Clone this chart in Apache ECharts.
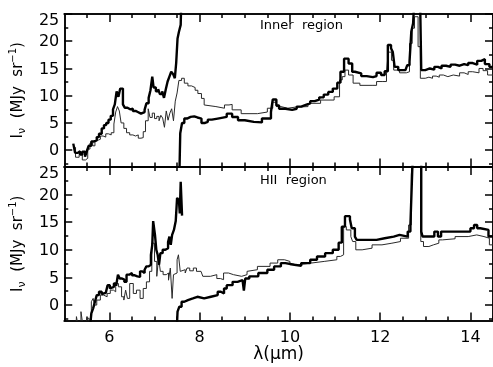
<!DOCTYPE html>
<html lang="en">
<head>
<meta charset="UTF-8">
<script src="https://cdn.jsdelivr.net/npm/echarts@6/dist/echarts.min.js"></script>
<title>Spectra</title>
<style>html,body{margin:0;padding:0;background:#fff;}</style>
</head>
<body>
<div id="chart" style="width:493px;height:367px;"></div>
<script>
// tick positions
var xMajor = [6, 8, 10, 12, 14];
var xMinor = [5.5, 6.5, 7, 7.5, 8.5, 9, 9.5, 10.5, 11, 11.5, 12.5, 13, 13.5, 14.5];
var yMajor = [0, 5, 10, 15, 20, 25];
var yMinor = [-2.5, 2.5, 7.5, 12.5, 17.5, 22.5];

// Inner region: [wavelength (um), I_nu (MJy/sr)]
var innerSL = [[5.20,1.2],[5.24,-0.5],[5.30,-0.2],[5.35,-0.8],[5.40,-0.3],[5.46,-1.2],[5.50,-0.2],[5.54,0.8],[5.60,1.6],[5.66,1.8],[5.72,2.4],[5.77,3.0],[5.83,4.0],[5.88,4.6],[5.93,5.0],[5.98,5.6],[6.03,6.3],[6.08,7.5],[6.12,8.4],[6.16,10.8],[6.20,9.8],[6.24,11.3],[6.30,8.4],[6.34,7.8],[6.40,7.5],[6.46,7.6],[6.52,7.2],[6.58,7.0],[6.63,6.7],[6.70,6.6],[6.74,7.0],[6.78,7.4],[6.82,8.6],[6.87,9.6],[6.91,11.0],[6.95,13.5],[6.98,11.5],[7.03,10.8],[7.08,11.2],[7.12,10.3],[7.17,10.8],[7.21,9.6],[7.25,11.2],[7.29,12.6],[7.33,13.5],[7.37,14.4],[7.41,14.0],[7.45,13.2],[7.48,16.0],[7.51,20.5],[7.54,21.7],[7.58,23.0],[7.60,30],[7.64,30]];
var innerThin = [[5.20,0.5],[5.25,-1.3],[5.33,-0.8],[5.40,-1.8],[5.47,-1.5],[5.52,0.2],[5.57,1.3],[5.63,0.8],[5.68,1.8],[5.74,2.0],[5.80,2.6],[5.86,2.4],[5.92,3.0],[5.98,2.8],[6.04,3.2],[6.10,4.8],[6.14,7.0],[6.18,8.0],[6.22,7.2],[6.26,5.0],[6.32,4.0],[6.38,3.2],[6.45,2.8],[6.52,2.6],[6.58,2.8],[6.64,2.2],[6.70,2.3],[6.75,3.4],[6.80,5.4],[6.86,7.6],[6.90,6.0],[6.95,6.8],[7.00,5.8],[7.05,6.2],[7.10,5.4],[7.14,6.4],[7.18,5.9],[7.22,4.2],[7.26,7.2],[7.30,5.5],[7.34,6.8],[7.38,7.6],[7.42,5.4],[7.46,9.0],[7.50,10.5],[7.54,12.8],[7.60,13.2],[7.66,12.3],[7.74,11.8],[7.82,11.5],[7.90,11.0],[7.96,10.4],[8.04,9.5],[8.10,8.3],[8.14,8.0],[8.36,7.7],[8.55,8.3],[8.65,8.4],[8.72,7.4],[8.92,6.7],[9.28,7.0],[9.50,7.7],[9.62,8.8],[9.70,8.0],[9.80,7.7],[9.95,7.9],[10.12,8.0],[10.40,8.6],[10.68,9.2],[10.98,9.8],[11.10,12.9],[11.16,13.5],[11.22,14.7],[11.30,13.8],[11.40,12.3],[11.55,11.9],[11.84,11.9],[11.92,12.6],[12.06,12.6],[12.14,14.3],[12.18,18.0],[12.25,16.5],[12.30,14.7],[12.43,14.2],[12.58,14.4],[12.65,19.6],[12.71,22.4],[12.76,24.5],[12.84,19.0],[12.89,13.2],[13.00,13.4],[13.08,13.2],[13.16,13.6],[13.24,13.4],[13.31,13.8],[13.40,13.5],[13.50,13.8],[13.62,13.6],[13.76,14.2],[13.86,13.9],[13.95,14.4],[14.05,14.2],[14.19,15.0],[14.28,14.6],[14.38,13.8],[14.50,13.8]];
var innerLL = [[7.55,-5],[7.57,3.1],[7.61,5.0],[7.66,5.8],[7.72,6.1],[7.80,6.2],[7.88,6.0],[7.95,5.8],[8.04,5.0],[8.12,5.2],[8.18,5.6],[8.27,5.8],[8.40,6.1],[8.60,6.7],[8.72,6.1],[8.85,5.5],[9.00,5.2],[9.20,5.1],[9.38,5.8],[9.58,7.0],[9.62,9.3],[9.70,8.2],[9.76,7.6],[9.90,7.4],[10.05,7.6],[10.15,8.0],[10.25,8.3],[10.35,8.6],[10.45,9.0],[10.55,9.3],[10.65,9.7],[10.75,10.2],[10.85,10.7],[10.95,11.3],[11.05,12.4],[11.12,14.4],[11.20,16.8],[11.30,15.9],[11.38,14.4],[11.44,14.1],[11.58,13.6],[11.70,13.4],[11.84,13.6],[11.92,14.2],[12.02,13.8],[12.10,14.5],[12.17,19.3],[12.24,18.7],[12.28,18.0],[12.32,15.3],[12.40,14.7],[12.56,14.7],[12.60,15.6],[12.65,16.2],[12.69,21.8],[12.73,23.3],[12.77,30],[12.88,30],[12.91,14.7],[13.00,15.0],[13.10,14.8],[13.20,15.3],[13.28,15.0],[13.36,15.5],[13.46,15.3],[13.56,15.7],[13.66,15.5],[13.76,15.8],[13.86,15.6],[13.95,16.0],[14.05,15.7],[14.15,16.4],[14.24,16.7],[14.32,15.8],[14.42,15.3],[14.50,15.3]];

// HII region
var hiiSL = [[5.56,-5],[5.60,-1.5],[5.64,-0.6],[5.68,0.6],[5.72,1.8],[5.77,2.4],[5.83,2.0],[5.87,2.2],[5.92,2.4],[5.96,3.6],[6.01,3.0],[6.05,3.3],[6.10,3.9],[6.15,3.5],[6.19,5.5],[6.23,4.8],[6.28,4.6],[6.33,4.2],[6.38,5.5],[6.44,5.8],[6.50,5.4],[6.55,5.2],[6.62,5.1],[6.68,6.1],[6.73,5.8],[6.78,6.4],[6.82,7.0],[6.87,7.3],[6.92,9.1],[6.95,10.9],[6.97,15.2],[7.01,12.7],[7.04,10.0],[7.07,9.1],[7.10,7.3],[7.13,9.4],[7.18,10.0],[7.24,10.3],[7.30,11.4],[7.33,12.4],[7.36,10.9],[7.39,12.7],[7.43,13.6],[7.47,15.2],[7.50,19.4],[7.54,19.0],[7.56,16.6],[7.58,22.3],[7.61,16.2]];
var hiiThin = [[5.26,-4],[5.27,-2.1],[5.31,-4],[5.37,-1.2],[5.41,-3.5],[5.50,-2.4],[5.55,-3.5],[5.60,0.6],[5.64,1.2],[5.67,0.0],[5.72,0.9],[5.80,1.8],[5.87,1.5],[5.95,2.1],[6.02,2.7],[6.09,2.4],[6.14,3.9],[6.20,3.3],[6.27,1.5],[6.32,0.9],[6.36,2.7],[6.40,1.2],[6.45,3.9],[6.53,2.1],[6.60,2.7],[6.68,1.2],[6.75,3.0],[6.82,4.2],[6.89,6.1],[6.94,11.2],[7.00,7.9],[7.05,5.2],[7.09,8.5],[7.13,6.1],[7.19,5.5],[7.26,5.8],[7.31,4.5],[7.35,6.7],[7.39,1.2],[7.42,5.5],[7.46,5.8],[7.50,8.2],[7.53,9.1],[7.57,6.1],[7.61,6.4],[7.68,5.8],[7.72,6.7],[7.78,6.2],[7.86,6.7],[7.93,6.1],[8.03,5.8],[8.07,5.2],[8.24,5.5],[8.38,4.8],[8.46,4.6],[8.53,5.8],[8.64,5.5],[8.75,5.2],[8.93,5.5],[9.05,6.1],[9.09,6.4],[9.28,7.0],[9.56,7.6],[9.73,8.2],[9.88,7.9],[10.00,7.3],[10.18,7.6],[10.47,7.9],[10.76,8.2],[11.04,8.8],[11.12,9.1],[11.19,14.2],[11.25,13.6],[11.35,12.4],[11.39,11.5],[11.46,10.0],[11.60,10.3],[11.82,10.9],[12.04,11.2],[12.26,11.5],[12.45,12.1],[12.63,14.5],[12.69,23.6],[12.73,30],[12.90,11.5],[12.96,10.6],[13.08,10.9],[13.18,11.2],[13.30,11.8],[13.38,12.0],[13.66,12.4],[13.95,12.7],[14.14,12.4],[14.30,12.1],[14.42,10.9],[14.50,10.9]];
var hiiLL = [[7.49,-5],[7.51,-1.2],[7.55,-0.3],[7.60,0.6],[7.66,0.9],[7.74,1.2],[7.85,1.5],[7.95,1.2],[8.10,1.5],[8.25,1.8],[8.40,2.4],[8.47,2.1],[8.54,3.0],[8.60,3.6],[8.73,4.2],[8.84,4.5],[8.95,4.2],[8.98,2.6],[9.01,4.8],[9.10,5.2],[9.30,5.8],[9.50,6.4],[9.65,7.0],[9.80,7.6],[9.90,7.3],[10.10,7.1],[10.25,7.6],[10.45,8.2],[10.60,8.8],[10.78,9.4],[10.95,10.0],[11.08,11.3],[11.15,14.2],[11.22,16.1],[11.33,15.5],[11.37,13.9],[11.44,12.4],[11.48,11.8],[11.80,11.8],[11.92,12.1],[12.10,12.4],[12.30,12.7],[12.43,12.4],[12.61,13.3],[12.67,14.5],[12.71,24.2],[12.74,30],[12.91,13.3],[12.94,12.4],[13.05,12.4],[13.20,13.3],[13.28,12.4],[13.35,13.3],[13.60,13.3],[13.95,13.3],[14.00,13.9],[14.08,14.5],[14.15,13.9],[14.22,13.6],[14.40,12.4],[14.50,12.4]];

var font = 'DejaVu Sans';
var lineCol = { color: '#000', width: 1.5 };

function xAx(grid, pos, ticks, len, labels) {
    var ax = {
        type: 'value', gridIndex: grid, position: pos, min: 5, max: 14.5,
        axisLine: { onZero: false, lineStyle: lineCol },
        axisTick: { inside: true, length: len, customValues: ticks, lineStyle: lineCol },
        axisLabel: { show: false },
        splitLine: { show: false }
    };
    if (labels) {
        ax.axisLabel = { show: true, customValues: ticks, margin: 9, color: '#000', fontFamily: font, fontSize: 16 };
        ax.name = 'λ(μm)';
        ax.nameLocation = 'middle';
        ax.nameGap = 24;
        ax.nameTextStyle = { color: '#000', fontFamily: font, fontSize: 17 };
    }
    return ax;
}

function yAx(grid, pos, ticks, len, labels, min) {
    var ax = {
        type: 'value', gridIndex: grid, position: pos, min: min, max: 25,
        axisLine: { onZero: false, lineStyle: lineCol },
        axisTick: { inside: true, length: len, customValues: ticks, lineStyle: lineCol },
        axisLabel: { show: false },
        splitLine: { show: false }
    };
    if (labels) {
        ax.axisLabel = {
            show: true, customValues: ticks, margin: 5,
            formatter: function (v) { return v === 25 ? '{t|25}' : '{n|' + v + '}'; },
            rich: {
                t: { color: '#000', fontFamily: font, fontSize: 16, padding: [13, 0, 0, 0] },
                n: { color: '#000', fontFamily: font, fontSize: 16, padding: [2, 0, 0, 0] }
            }
        };
        ax.name = '{n|I}{s|ν}{n|  (MJy  sr}{p|−1}{n|)}';
        ax.nameLocation = 'middle';
        ax.nameGap = 36;
        ax.nameTextStyle = {
            rich: {
                n: { color: '#000', fontFamily: font, fontSize: 15, lineHeight: 20, verticalAlign: 'middle' },
                s: { color: '#000', fontFamily: font, fontSize: 11, lineHeight: 10, verticalAlign: 'bottom' },
                p: { color: '#000', fontFamily: font, fontSize: 10, lineHeight: 10, verticalAlign: 'top' }
            }
        };
    }
    return ax;
}

function spec(data, grid, thick) {
    return {
        type: 'line', step: 'end', data: data,
        xAxisIndex: grid * 4, yAxisIndex: grid * 4,
        showSymbol: false, silent: true, clip: true,
        lineStyle: thick ? { color: '#000', width: 2.4 } : { color: '#2a2a2a', width: 1 }
    };
}

var chart = echarts.init(document.getElementById('chart'));
chart.setOption({
    animation: false,
    backgroundColor: '#fff',
    title: [
        { text: 'Inner  region', left: 260, top: 19, padding: 0, textStyle: { fontFamily: font, fontSize: 13, fontWeight: 'normal', color: '#000' } },
        { text: 'HII  region', left: 260, top: 174, padding: 0, textStyle: { fontFamily: font, fontSize: 13, fontWeight: 'normal', color: '#000' } }
    ],
    grid: [
        { left: 62.5, top: 14, width: 431.3, height: 152.5 },
        { left: 62.5, top: 167, width: 431.3, height: 153.5 }
    ],
    xAxis: [
        xAx(0, 'bottom', xMajor, 8, false), xAx(0, 'bottom', xMinor, 4, false),
        xAx(0, 'top', xMajor, 8, false), xAx(0, 'top', xMinor, 4, false),
        xAx(1, 'bottom', xMajor, 8, true), xAx(1, 'bottom', xMinor, 4, false),
        xAx(1, 'top', xMajor, 8, false), xAx(1, 'top', xMinor, 4, false)
    ],
    yAxis: [
        yAx(0, 'left', yMajor, 8, true, -3), yAx(0, 'left', yMinor, 4, false, -3),
        yAx(0, 'right', yMajor, 8, false, -3), yAx(0, 'right', yMinor, 4, false, -3),
        yAx(1, 'left', yMajor, 8, true, -2.8), yAx(1, 'left', yMinor, 4, false, -2.8),
        yAx(1, 'right', yMajor, 8, false, -2.8), yAx(1, 'right', yMinor, 4, false, -2.8)
    ],
    series: [
        spec(innerThin, 0, false), spec(innerSL, 0, true), spec(innerLL, 0, true),
        spec(hiiThin, 1, false), spec(hiiSL, 1, true), spec(hiiLL, 1, true)
    ]
});
</script>
</body>
</html>
